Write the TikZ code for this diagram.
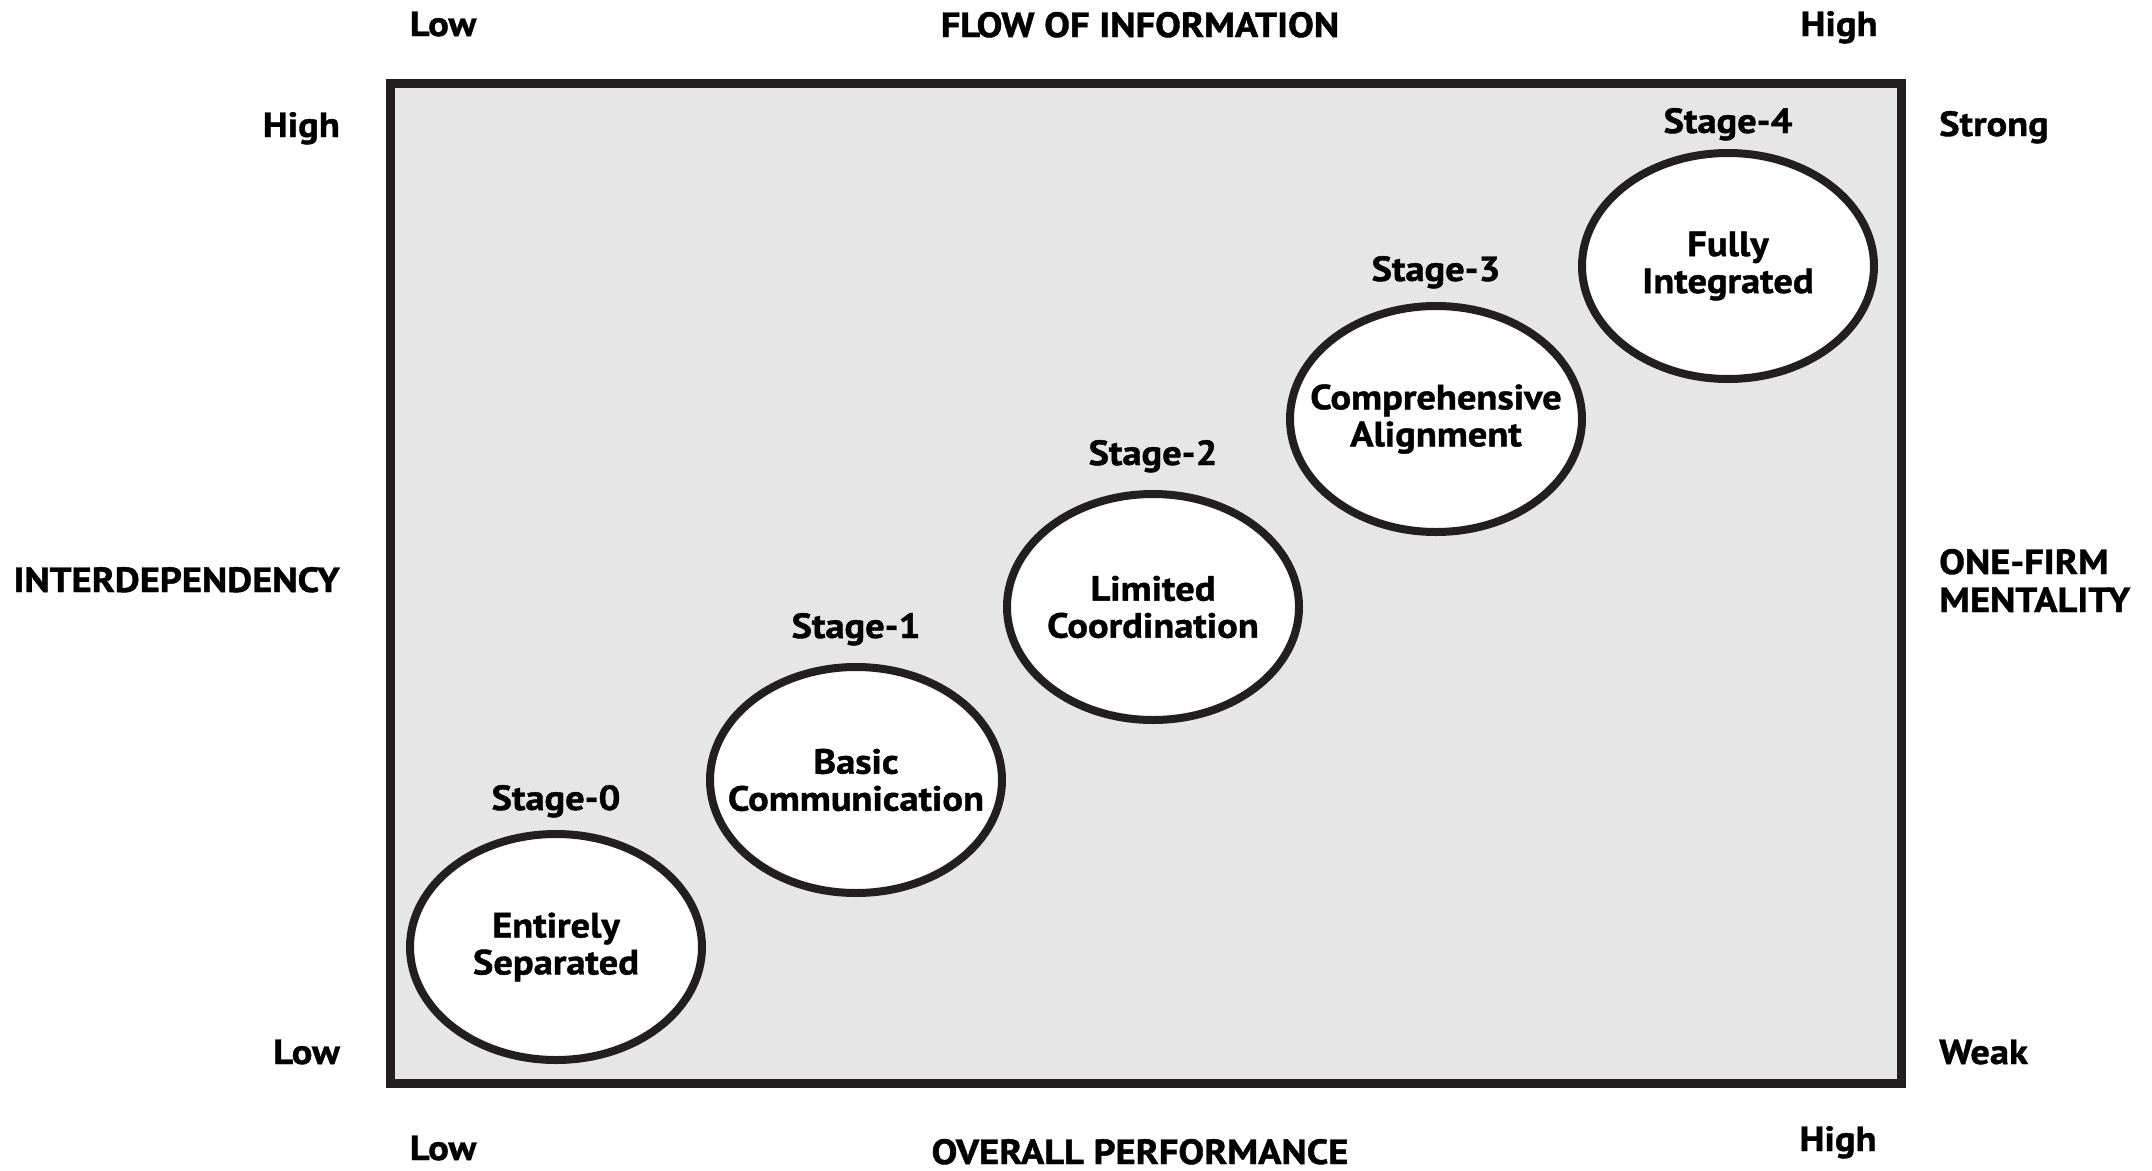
\documentclass[tikz,border=0pt]{standalone}
\usepackage{fontspec}
\setmainfont{PT Sans}[FakeStretch=1.1, BoldFeatures={FakeStretch=1.1, FakeBold=1.2}]
\usetikzlibrary{shapes.geometric}
\definecolor{panel}{HTML}{E6E6E6}
\definecolor{ink}{HTML}{231F20}
\begin{document}
\begin{tikzpicture}[x=1pt,y=-1pt,
  lbl/.style={font=\fontsize{35}{38}\selectfont\bfseries, text=black, inner sep=0pt},
  stagebox/.style={ellipse, draw=ink, line width=8pt, fill=white,
    minimum width=292pt, minimum height=226pt, inner sep=0pt},
  stagetext/.style={inner sep=0pt, align=center, font=\fontsize{35}{37}\selectfont\bfseries},
  stagelbl/.style={lbl, anchor=base}]
\useasboundingbox (0,0) rectangle (2152,1170);
\fill[white] (0,0) rectangle (2152,1170);
\node[draw=ink, line width=9pt, fill=panel, minimum width=1511pt, minimum height=1000pt,
  inner sep=0pt, anchor=north west] (panel) at (386,79) {};
% stages
\node[stagebox] (s0) at (556,947) {};
\node[stagebox] (s1) at (856,780) {};
\node[stagebox] (s2) at (1153,607) {};
\node[stagebox] (s3) at (1436,419) {};
\node[stagebox] (s4) at (1728,266) {};
\node[stagetext] (t0) at (s0) {Entirely\\Separated};
\node[stagetext] (t1) at (s1) {Basic\\Communication};
\node[stagetext] (t2) at (s2) {Limited\\Coordination};
\node[stagetext] (t3) at (s3) {Comprehensive\\Alignment};
\node[stagetext] (t4) at (s4) {Fully\\Integrated};
\node[stagelbl] (l0) at (556,810) {Stage-0};
\node[stagelbl] (l1) at (856,638) {Stage-1};
\node[stagelbl] (l2) at (1153,465) {Stage-2};
\node[stagelbl] (l3) at (1436,281) {Stage-3};
\node[stagelbl] (l4) at (1728,133) {Stage-4};
% top axis
\node[lbl, anchor=base] (tlow) at (443,36) {Low};
\node[lbl, anchor=base] (ttitle) at (1140,37) {FLOW OF INFORMATION};
\node[lbl, anchor=base] (thigh) at (1839,36) {High};
% bottom axis
\node[lbl, anchor=base] (blow) at (443,1160) {Low};
\node[lbl, anchor=base] (btitle) at (1140,1164) {OVERALL PERFORMANCE};
\node[lbl, anchor=base] (bhigh) at (1838,1151) {High};
% left axis
\node[lbl, anchor=base east] (lhigh) at (340,137) {High};
\node[lbl, anchor=base east] (ltitle) at (340,592) {INTERDEPENDENCY};
\node[lbl, anchor=base east] (llow) at (340,1064) {Low};
% right axis
\node[lbl, anchor=base west] (rstrong) at (1939,136) {Strong};
\node[lbl, anchor=base west] (rtitle1) at (1939,574) {ONE-FIRM};
\node[lbl, anchor=base west] (rtitle2) at (1939,612) {MENTALITY};
\node[lbl, anchor=base west] (rweak) at (1939,1064) {Weak};
\end{tikzpicture}
\end{document}
